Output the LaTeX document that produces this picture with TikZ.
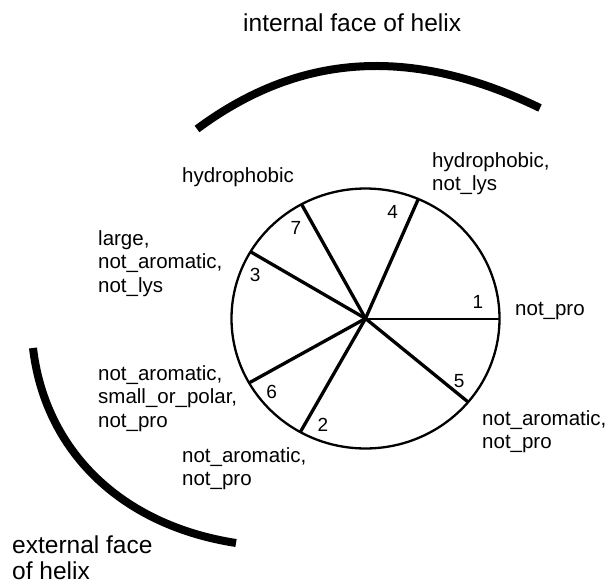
\documentclass[tikz,border=0pt]{standalone}
\usepackage{fontspec}
\setmainfont{Liberation Sans}
\usetikzlibrary{positioning}
\tikzset{
    face/.style={
        line width=8pt,
        line cap=butt
    },
    rim/.style={line width=2.3pt},
    spoke/.style={line width=3.3pt},
    prop/.style={
        anchor=base west,
        align=left,
        inner sep=0pt,
        font=\fontsize{20.5}{23.5}\selectfont
    },
    facelabel/.style={
        anchor=base west,
        align=left,
        inner sep=0pt,
        font=\fontsize{24.5}{26.5}\selectfont
    },
    resnum/.style={
        inner sep=0pt,
        font=\fontsize{19}{19}\selectfont
    }
}

\begin{document}
\begin{tikzpicture}[x=1pt,y=-1pt]
        \useasboundingbox (0,0) rectangle (610,586);

        % faces of the helix (base = last line)
        \node[facelabel] (internal) at (243,32) {internal face of helix};
        \node[facelabel] (external) at (12,579.5) {external face\\of helix};
        \coordinate (inA) at (197,129);
        \coordinate (inB) at (540,108);
        \coordinate (exA) at (33,348);
        \coordinate (exB) at (236,543);
        \draw[face] (inA) .. controls (290,60) and (400,40) .. (inB);
        \draw[face] (exA) .. controls (45,450) and (120,525) .. (exB);

        % the wheel
        \coordinate (hub) at (365.5,318.5);
        \begin{scope}[shift={(hub)}, x=1pt, y=0.97pt]
            \draw[rim] (0,0) circle[radius=134];
            \coordinate (r1) at (0:134);
            \draw[line width=2pt] (hub) -- (r1);
            \foreach \a/\n in {66.8/4, 118.5/7, 149.1/3, 209.7/6, 240.9/2, 320/5} {
                \coordinate (r\n) at (\a:134);
                \draw[spoke] (hub) -- (r\n);
            }
            \foreach \a/\r/\n in {8.6/113.8/1, 76.1/113.4/4, 126.7/116.3/7, 157.9/119.2/3,
                                  218.8/120.4/6, 248.8/117.7/2, 325.6/113.4/5} {
                \node[resnum] (n\n) at (\a:\r) {\n};
            }
        \end{scope}

        % residue properties (base = last line)
        \node[prop] (p1) at (515,315) {not\_pro};
        \node[prop] (p4) at (432,190.5) {hydrophobic,\\not\_lys};
        \node[prop] (p7) at (182,182) {hydrophobic};
        \node[prop] (p3) at (98,292) {large,\\not\_aromatic,\\not\_lys};
        \node[prop] (p6) at (98,427) {not\_aromatic,\\small\_or\_polar,\\not\_pro};
        \node[prop] (p2) at (182,485.5) {not\_aromatic,\\not\_pro};
        \node[prop] (p5) at (482,448.5) {not\_aromatic,\\not\_pro};
    \end{tikzpicture}
\end{document}
